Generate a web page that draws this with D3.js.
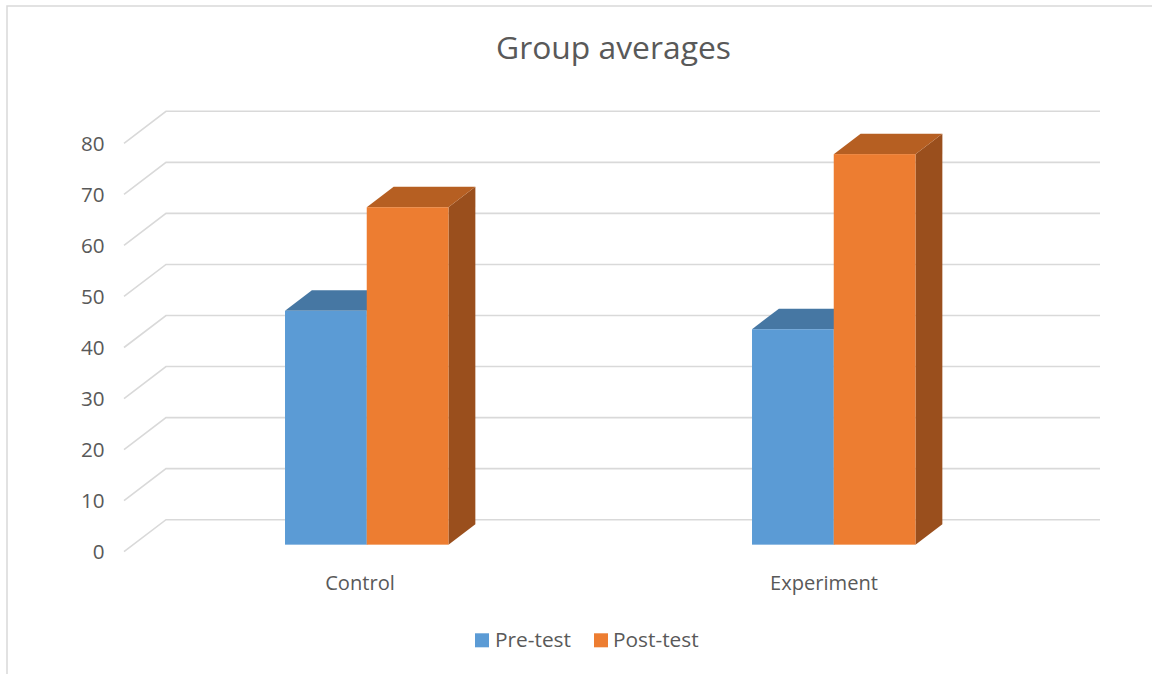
<!DOCTYPE html>
<html>
<head>
<meta charset="utf-8">
<script src="https://cdn.jsdelivr.net/npm/d3@7"></script>
<style>
  html, body { margin: 0; padding: 0; background: #fff; }
  svg { display: block; }
  text { font-family: "Open Sans", "Noto Sans", sans-serif; fill: #595959; }
</style>
</head>
<body>
<svg id="chart" width="1152" height="674"></svg>
<script>
// ---- data ----
const categories = ["Control", "Experiment"];
const seriesNames = ["Pre-test", "Post-test"];
const preTest = [45.8, 42.2];
const postTest = [66.1, 76.5];
const yTicks = [0, 10, 20, 30, 40, 50, 60, 70, 80];
const title = "Group averages";

// ---- styles ----
const frontColors = ["#5b9bd5", "#ed7d31"];
const topColors = ["#4677a3", "#b65f22"];
const sideColors = ["#3e6a93", "#9a4f1d"];
const gridColor = "#d9d9d9";

const svg = d3.select("#chart");
const W = 1152, H = 674;

// chart border
svg.append("rect").attr("x", 7).attr("y", 6).attr("width", W).attr("height", H)
  .attr("fill", "#fff").attr("stroke", gridColor).attr("stroke-width", 1.5);

// 3D geometry
const DX = 42, DY = 32;       // full depth offset of the back wall
const tFront = 0.22, tBack = 0.86; // bar depth fractions

const x = d3.scaleBand().domain(categories).range([124, 1058]);
const y = d3.scaleLinear().domain([0, 80]).range([551.7, 143.3]);
const proj = (px, v, t) => [px + DX * t, y(v) - DY * t];

// fit text to a target width
function fit(sel, target) {
  const node = sel.node();
  const fs = parseFloat(sel.attr("font-size"));
  const w = node.getComputedTextLength();
  sel.attr("font-size", (fs * target / w).toFixed(2));
  return sel;
}

// gridlines: diagonal on side wall + horizontal on back wall
const grid = svg.append("g");
yTicks.forEach(v => {
  const a = proj(x.range()[0], v, 0);
  const b = proj(x.range()[0], v, 1);
  const c = proj(x.range()[1], v, 1);
  grid.append("polyline")
    .attr("points", [a, b, c].map(p => p.join(",")).join(" "))
    .attr("fill", "none").attr("stroke", gridColor).attr("stroke-width", 1.6);
});

// y tick labels
yTicks.forEach(v => {
  const p = proj(x.range()[0], v, 0);
  const t = svg.append("text").attr("class", "ylab").attr("x", 104.5).attr("y", p[1] + 7.5)
    .attr("text-anchor", "end").attr("font-size", 18).text(v);
});
{
  const labels = svg.selectAll("text.ylab");
  const t80 = d3.select(labels.nodes()[labels.size() - 1]);
  fit(t80, 23.6);
  labels.attr("font-size", t80.attr("font-size"));
}

// bars
const barW = x.bandwidth() * 0.175;
const series = [preTest, postTest];
const bars = svg.append("g");
categories.forEach((cat, ci) => {
  const cx = x(cat) + x.bandwidth() / 2;
  series.forEach((vals, si) => {
    const v = vals[ci];
    const x0 = cx - barW + si * barW, x1 = x0 + barW;
    const fbl = proj(x0, 0, tFront), fbr = proj(x1, 0, tFront);
    const ftl = proj(x0, v, tFront), ftr = proj(x1, v, tFront);
    const btl = proj(x0, v, tBack), btr = proj(x1, v, tBack), bbr = proj(x1, 0, tBack);
    const poly = pts => pts.map(p => p.join(",")).join(" ");
    // side
    bars.append("polygon").attr("points", poly([fbr, ftr, btr, bbr])).attr("fill", sideColors[si]);
    // top
    bars.append("polygon").attr("points", poly([ftl, ftr, btr, btl])).attr("fill", topColors[si]);
    // front
    bars.append("rect").attr("x", ftl[0]).attr("y", ftl[1])
      .attr("width", fbr[0] - fbl[0]).attr("height", fbl[1] - ftl[1])
      .attr("fill", frontColors[si]);
  });
});

// category labels
categories.forEach((cat, ci) => {
  const cx = x(cat) + x.bandwidth() / 2;
  svg.append("text").attr("class", "cat").attr("x", cx + (ci === 0 ? 2.5 : -0.5)).attr("y", 590)
    .attr("text-anchor", "middle").attr("font-size", 18).text(cat);
});
{
  const cl = svg.selectAll("text.cat");
  const t = d3.select(cl.nodes()[1]);
  fit(t, 108);
  cl.attr("font-size", t.attr("font-size"));
}

// title
fit(svg.append("text").attr("x", 613.5).attr("y", 58.5).attr("text-anchor", "middle")
  .attr("font-size", 28).text(title), 235);

// legend
const legendItems = [
  { name: seriesNames[0], sx: 475, tx: 495 },
  { name: seriesNames[1], sx: 594, tx: 613 }
];
const lg = svg.append("g");
let legFs = null;
legendItems.forEach((d, i) => {
  lg.append("rect").attr("x", d.sx).attr("y", 633.3).attr("width", 14).attr("height", 14)
    .attr("fill", frontColors[i]);
  const t = lg.append("text").attr("x", d.tx).attr("y", 647).attr("font-size", 18).text(d.name);
  if (i === 0) { fit(t, 76); legFs = t.attr("font-size"); }
  else t.attr("font-size", legFs);
});
</script>
</body>
</html>
